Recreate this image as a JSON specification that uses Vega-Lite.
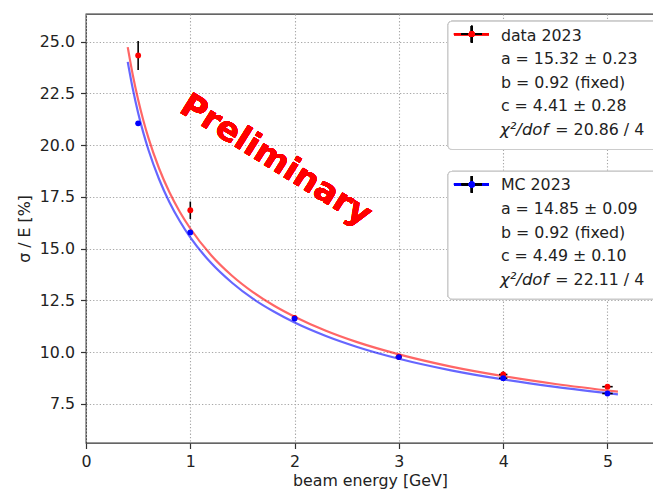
{
  "$schema": "https://vega.github.io/schema/vega-lite/v6.json",
  "autosize": {"type": "none"},
  "padding": {"left": 86, "top": 14, "right": 0, "bottom": 48},
  "width": 568,
  "height": 429,
  "background": "white",
  "title": {"text": "Energy resolution", "anchor": "start", "dx": 209, "offset": 0, "dy": -8, "fontSize": 24, "fontWeight": "bold", "font": "DejaVu Sans", "color": "black", "baseline": "alphabetic"},
  "config": {
    "view": {"stroke": "#333333", "strokeWidth": 1.3},
    "axis": {"labelFont": "DejaVu Sans", "titleFont": "DejaVu Sans", "labelFontSize": 15.8, "titleFontSize": 15.8, "titleFontWeight": "normal", "labelColor": "#222222", "titleColor": "#222222", "domain": false, "tickColor": "#333333", "tickWidth": 1.2, "tickSize": 5.5, "gridColor": "#a8a8a8", "gridDash": [1.3, 2], "gridWidth": 1.1, "labelFlush": false}
  },
  "datasets": {
    "points": [
      {"E": 0.5, "sigma": 24.33, "err": 0.70, "xerr": 0.005, "series": "data 2023"},
      {"E": 1, "sigma": 16.85, "err": 0.42, "xerr": 0.01, "series": "data 2023"},
      {"E": 2, "sigma": 11.65, "err": 0.14, "xerr": 0.02, "series": "data 2023"},
      {"E": 3, "sigma": 9.78, "err": 0.12, "xerr": 0.03, "series": "data 2023"},
      {"E": 4, "sigma": 8.92, "err": 0.14, "xerr": 0.04, "series": "data 2023"},
      {"E": 5, "sigma": 8.33, "err": 0.12, "xerr": 0.05, "series": "data 2023"},
      {"E": 0.5, "sigma": 21.05, "err": 0.06, "xerr": 0.005, "series": "MC 2023"},
      {"E": 1, "sigma": 15.78, "err": 0.06, "xerr": 0.01, "series": "MC 2023"},
      {"E": 2, "sigma": 11.62, "err": 0.06, "xerr": 0.02, "series": "MC 2023"},
      {"E": 3, "sigma": 9.76, "err": 0.06, "xerr": 0.03, "series": "MC 2023"},
      {"E": 4, "sigma": 8.74, "err": 0.08, "xerr": 0.04, "series": "MC 2023"},
      {"E": 5, "sigma": 8.0, "err": 0.08, "xerr": 0.05, "series": "MC 2023"}
    ],
    "fits": [
      {"E": 0.4, "sigma": 24.73, "series": "data 2023"},
      {"E": 0.45, "sigma": 23.35, "series": "data 2023"},
      {"E": 0.5, "sigma": 22.19, "series": "data 2023"},
      {"E": 0.55, "sigma": 21.19, "series": "data 2023"},
      {"E": 0.6, "sigma": 20.32, "series": "data 2023"},
      {"E": 0.7, "sigma": 18.88, "series": "data 2023"},
      {"E": 0.8, "sigma": 17.72, "series": "data 2023"},
      {"E": 0.9, "sigma": 16.77, "series": "data 2023"},
      {"E": 1.0, "sigma": 15.97, "series": "data 2023"},
      {"E": 1.2, "sigma": 14.68, "series": "data 2023"},
      {"E": 1.4, "sigma": 13.69, "series": "data 2023"},
      {"E": 1.6, "sigma": 12.90, "series": "data 2023"},
      {"E": 1.8, "sigma": 12.25, "series": "data 2023"},
      {"E": 2.0, "sigma": 11.71, "series": "data 2023"},
      {"E": 2.3, "sigma": 11.03, "series": "data 2023"},
      {"E": 2.6, "sigma": 10.48, "series": "data 2023"},
      {"E": 3.0, "sigma": 9.89, "series": "data 2023"},
      {"E": 3.5, "sigma": 9.30, "series": "data 2023"},
      {"E": 4.0, "sigma": 8.84, "series": "data 2023"},
      {"E": 4.5, "sigma": 8.46, "series": "data 2023"},
      {"E": 5.1, "sigma": 8.09, "series": "data 2023"},
      {"E": 0.4, "sigma": 24.02, "series": "MC 2023"},
      {"E": 0.45, "sigma": 22.68, "series": "MC 2023"},
      {"E": 0.5, "sigma": 21.55, "series": "MC 2023"},
      {"E": 0.55, "sigma": 20.59, "series": "MC 2023"},
      {"E": 0.6, "sigma": 19.75, "series": "MC 2023"},
      {"E": 0.7, "sigma": 18.36, "series": "MC 2023"},
      {"E": 0.8, "sigma": 17.24, "series": "MC 2023"},
      {"E": 0.9, "sigma": 16.32, "series": "MC 2023"},
      {"E": 1.0, "sigma": 15.54, "series": "MC 2023"},
      {"E": 1.2, "sigma": 14.30, "series": "MC 2023"},
      {"E": 1.4, "sigma": 13.35, "series": "MC 2023"},
      {"E": 1.6, "sigma": 12.58, "series": "MC 2023"},
      {"E": 1.8, "sigma": 11.96, "series": "MC 2023"},
      {"E": 2.0, "sigma": 11.43, "series": "MC 2023"},
      {"E": 2.3, "sigma": 10.78, "series": "MC 2023"},
      {"E": 2.6, "sigma": 10.25, "series": "MC 2023"},
      {"E": 3.0, "sigma": 9.68, "series": "MC 2023"},
      {"E": 3.5, "sigma": 9.12, "series": "MC 2023"},
      {"E": 4.0, "sigma": 8.68, "series": "MC 2023"},
      {"E": 4.5, "sigma": 8.32, "series": "MC 2023"},
      {"E": 5.1, "sigma": 7.96, "series": "MC 2023"}
    ],
    "legendText": [
      {"series": "data 2023", "lines": ["data 2023", "a = 15.32 ± 0.23", "b = 0.92 (fixed)", "c = 4.41 ± 0.28"], "chi": "χ²/dof", "chiValue": "= 20.86 / 4"},
      {"series": "MC 2023", "lines": ["MC 2023", "a = 14.85 ± 0.09", "b = 0.92 (fixed)", "c = 4.49 ± 0.10"], "chi": "χ²/dof", "chiValue": "= 22.11 / 4"}
    ]
  },
  "data": {"name": "points"},
  "encoding": {
    "x": {"type": "quantitative", "scale": {"domain": [0, 5.446], "nice": false, "zero": false},
      "axis": {"values": [0, 1, 2, 3, 4, 5], "format": "d", "title": "beam energy [GeV]", "labelPadding": 6, "titlePadding": 4, "grid": true}},
    "y": {"type": "quantitative", "scale": {"domain": [5.61, 26.33], "nice": false, "zero": false},
      "axis": {"values": [7.5, 10, 12.5, 15, 17.5, 20, 22.5, 25], "format": ".1f", "title": "σ / E [%]", "labelPadding": 6, "titlePadding": 7, "grid": true}}
  },
  "layer": [
    {
      "data": {"name": "fits"},
      "mark": {"type": "line", "interpolate": "monotone", "strokeWidth": 2.2, "opacity": 0.6, "clip": true},
      "encoding": {
        "x": {"field": "E"},
        "y": {"field": "sigma"},
        "color": {"field": "series", "type": "nominal", "scale": {"domain": ["data 2023", "MC 2023"], "range": ["#ff0000", "#0000ff"]}, "legend": null}
      }
    },
    {
      "mark": {"type": "rule", "color": "black", "strokeWidth": 1.6},
      "encoding": {
        "x": {"field": "E"},
        "y": {"field": "sigma_lo"},
        "y2": {"field": "sigma_hi"}
      },
      "transform": [{"calculate": "datum.sigma - datum.err", "as": "sigma_lo"}, {"calculate": "datum.sigma + datum.err", "as": "sigma_hi"}]
    },
    {
      "mark": {"type": "rule", "color": "black", "strokeWidth": 1.6},
      "encoding": {
        "x": {"field": "E_lo"},
        "x2": {"field": "E_hi"},
        "y": {"field": "sigma"}
      },
      "transform": [{"calculate": "datum.E - datum.xerr", "as": "E_lo"}, {"calculate": "datum.E + datum.xerr", "as": "E_hi"}]
    },
    {
      "mark": {"type": "circle", "size": 34, "opacity": 1},
      "encoding": {
        "x": {"field": "E"},
        "y": {"field": "sigma"},
        "color": {"field": "series", "type": "nominal", "scale": {"domain": ["data 2023", "MC 2023"], "range": ["#ff0000", "#0000ff"]}, "legend": null}
      }
    },
    {
      "mark": {"type": "text", "text": "Preliminary", "font": "DejaVu Sans", "fontSize": 33.5, "fontWeight": "bold", "color": "#ff0000", "angle": 32, "align": "center", "baseline": "middle"},
      "encoding": {"x": {"datum": 1.82}, "y": {"datum": 19.25}}
    },
    {
      "mark": {"type": "rect", "fill": "white", "fillOpacity": 0.8, "stroke": "#cccccc", "strokeWidth": 1, "cornerRadius": 4},
      "encoding": {"x": {"datum": 3.471}, "x2": {"datum": 5.6}, "y": {"datum": 25.977}, "y2": {"datum": 19.786}}
    },
    {
      "mark": {"type": "rect", "fill": "white", "fillOpacity": 0.8, "stroke": "#cccccc", "strokeWidth": 1, "cornerRadius": 4},
      "encoding": {"x": {"datum": 3.471}, "x2": {"datum": 5.6}, "y": {"datum": 18.727}, "y2": {"datum": 12.564}}
    },
    {
      "mark": {"type": "rule", "color": "#ff0000", "opacity": 0.6, "strokeWidth": 2.2},
      "encoding": {"x": {"datum": 3.528}, "x2": {"datum": 3.864}, "y": {"datum": 25.356}}
    },
    {
      "mark": {"type": "rule", "color": "black", "strokeWidth": 1.6},
      "encoding": {"x": {"datum": 3.602}, "x2": {"datum": 3.794}, "y": {"datum": 25.356}}
    },
    {
      "mark": {"type": "rule", "color": "black", "strokeWidth": 1.6},
      "encoding": {"x": {"datum": 3.698}, "y": {"datum": 24.956}, "y2": {"datum": 25.756}}
    },
    {
      "mark": {"type": "circle", "size": 34, "opacity": 1, "color": "#ff0000"},
      "encoding": {"x": {"datum": 3.698}, "y": {"datum": 25.356}}
    },
    {
      "mark": {"type": "rule", "color": "#0000ff", "opacity": 0.6, "strokeWidth": 2.2},
      "encoding": {"x": {"datum": 3.528}, "x2": {"datum": 3.864}, "y": {"datum": 18.1}}
    },
    {
      "mark": {"type": "rule", "color": "black", "strokeWidth": 1.6},
      "encoding": {"x": {"datum": 3.602}, "x2": {"datum": 3.794}, "y": {"datum": 18.1}}
    },
    {
      "mark": {"type": "rule", "color": "black", "strokeWidth": 1.6},
      "encoding": {"x": {"datum": 3.698}, "y": {"datum": 17.7}, "y2": {"datum": 18.5}}
    },
    {
      "mark": {"type": "circle", "size": 34, "opacity": 1, "color": "#0000ff"},
      "encoding": {"x": {"datum": 3.698}, "y": {"datum": 18.1}}
    },
    {
      "data": {"name": "legendText"},
      "transform": [{"filter": "datum.series === 'data 2023'"}],
      "mark": {"type": "text", "font": "DejaVu Sans", "fontSize": 15.8, "color": "#222222", "align": "left", "baseline": "alphabetic", "lineHeight": 23.6},
      "encoding": {"x": {"datum": 3.978}, "y": {"datum": 25.05}, "text": {"field": "lines"}}
    },
    {
      "data": {"name": "legendText"},
      "transform": [{"filter": "datum.series === 'data 2023'"}],
      "mark": {"type": "text", "font": "DejaVu Sans", "fontSize": 16.5, "fontStyle": "italic", "color": "#222222", "align": "left", "baseline": "alphabetic"},
      "encoding": {"x": {"datum": 3.969}, "y": {"datum": 20.508}, "text": {"field": "chi"}}
    },
    {
      "data": {"name": "legendText"},
      "transform": [{"filter": "datum.series === 'data 2023'"}],
      "mark": {"type": "text", "font": "DejaVu Sans", "fontSize": 15.8, "color": "#222222", "align": "left", "baseline": "alphabetic"},
      "encoding": {"x": {"datum": 4.50}, "y": {"datum": 20.508}, "text": {"field": "chiValue"}}
    },
    {
      "data": {"name": "legendText"},
      "transform": [{"filter": "datum.series === 'MC 2023'"}],
      "mark": {"type": "text", "font": "DejaVu Sans", "fontSize": 15.8, "color": "#222222", "align": "left", "baseline": "alphabetic", "lineHeight": 23.6},
      "encoding": {"x": {"datum": 3.978}, "y": {"datum": 17.81}, "text": {"field": "lines"}}
    },
    {
      "data": {"name": "legendText"},
      "transform": [{"filter": "datum.series === 'MC 2023'"}],
      "mark": {"type": "text", "font": "DejaVu Sans", "fontSize": 16.5, "fontStyle": "italic", "color": "#222222", "align": "left", "baseline": "alphabetic"},
      "encoding": {"x": {"datum": 3.969}, "y": {"datum": 13.237}, "text": {"field": "chi"}}
    },
    {
      "data": {"name": "legendText"},
      "transform": [{"filter": "datum.series === 'MC 2023'"}],
      "mark": {"type": "text", "font": "DejaVu Sans", "fontSize": 15.8, "color": "#222222", "align": "left", "baseline": "alphabetic"},
      "encoding": {"x": {"datum": 4.50}, "y": {"datum": 13.237}, "text": {"field": "chiValue"}}
    }
  ]
}
